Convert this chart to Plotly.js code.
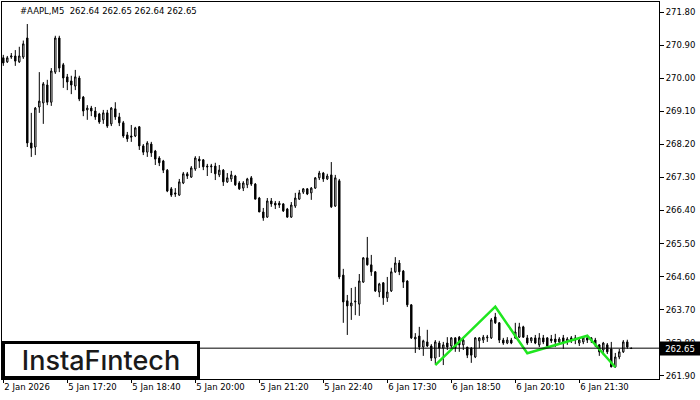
<!DOCTYPE html>
<html>
<head>
<meta charset="utf-8">
<script src="https://cdn.plot.ly/plotly-3.0.1.min.js"></script>
<style>html,body{margin:0;padding:0;background:#fff;}#chart{width:700px;height:400px;}</style>
</head>
<body>
<div id="chart"></div>
<script>
var symbolTitle = "#AAPL,M5\u00a0 262.64 262.65 262.64 262.65";
var lastPrice = 262.65;

var opens = [270.56,270.45,270.58,270.61,270.45,270.58,271.10,268.24,268.13,269.22,
269.33,269.82,269.35,270.17,271.10,270.37,270.04,269.93,269.79,270.01,
269.49,269.14,269.19,269.11,269.03,268.87,269.06,268.76,269.17,268.95,
268.79,268.46,268.43,268.43,268.68,268.16,267.99,268.21,268.02,267.83,
267.75,267.50,266.99,266.88,266.82,267.15,267.40,267.31,267.53,267.80,
267.78,267.61,267.59,267.61,267.37,267.50,267.18,267.26,267.34,267.15,
267.01,267.10,267.29,267.12,266.74,266.36,266.22,266.66,266.60,266.60,
266.58,266.44,266.22,266.52,266.71,266.90,266.99,266.88,267.01,267.29,
267.42,267.26,267.37,266.52,267.21,264.64,263.94,263.80,263.91,263.85,
264.45,265.11,264.92,264.73,264.18,264.43,264.02,264.21,264.73,264.97,
264.75,264.48,263.83,262.90,262.98,262.68,262.82,262.71,262.38,262.79,
262.65,262.79,262.71,262.93,262.95,262.74,262.68,262.65,262.41,262.85,
262.87,262.93,262.93,263.50,263.34,262.87,262.79,262.87,262.93,262.95,
263.23,262.93,262.85,262.93,262.74,262.93,262.93,262.90,262.90,262.82,
262.93,262.82,262.93,262.93,262.79,262.82,262.93,262.93,262.87,262.74,
262.60,262.74,262.63,262.14,262.41,262.55,262.82,262.64];

var highs = [270.64,270.61,270.69,270.77,270.86,271.03,271.48,269.06,269.22,270.17,
269.90,269.96,270.28,271.16,271.16,270.42,270.12,270.07,270.23,270.07,
269.52,269.27,269.25,269.22,269.06,269.14,269.14,269.22,269.35,269.06,
268.84,268.54,268.73,268.68,268.70,268.21,268.29,268.27,268.05,267.88,
267.78,267.53,267.04,267.01,267.26,267.45,267.45,267.61,267.88,267.88,
267.80,267.67,267.67,267.70,267.64,267.53,267.42,267.48,267.37,267.20,
267.20,267.29,267.34,267.15,266.77,266.47,266.74,266.74,266.66,266.66,
266.60,266.47,266.63,266.88,266.96,267.01,267.01,267.04,267.31,267.48,
267.45,267.40,267.72,267.37,267.26,264.81,264.10,264.29,264.32,264.67,
265.13,265.68,265.19,264.75,264.43,264.45,264.59,264.84,265.13,265.05,
264.78,264.50,263.85,263.06,263.23,262.88,263.15,262.76,262.87,262.85,
262.82,262.95,262.95,262.95,262.98,262.95,262.68,262.68,262.95,262.95,
263.01,263.01,263.47,263.61,263.36,262.93,262.95,262.93,263.34,263.34,
263.26,263.01,262.95,263.01,263.06,263.01,262.95,263.01,263.04,262.95,
263.01,262.95,262.98,263.01,262.95,262.98,263.01,262.95,262.93,262.76,
262.82,262.79,262.82,262.52,262.63,262.87,262.88,262.65];

var lows = [270.34,270.42,270.53,270.34,270.42,270.53,268.13,267.86,267.91,269.06,
268.76,269.27,269.25,270.12,270.17,269.74,269.68,269.57,269.68,269.38,
268.97,268.87,268.97,268.87,268.76,268.76,268.65,268.70,268.87,268.70,
268.38,268.27,268.27,268.40,268.05,267.91,267.86,267.86,267.64,267.61,
267.42,266.90,266.77,266.77,266.80,267.12,267.26,267.29,267.48,267.56,
267.50,267.34,267.42,267.23,267.31,267.07,267.15,267.18,267.07,266.96,
266.93,267.01,267.07,266.71,266.36,266.12,266.20,266.50,266.44,266.47,
266.36,266.20,266.20,266.47,266.69,266.85,266.82,266.69,266.99,267.23,
267.18,267.23,266.47,266.50,264.53,263.34,263.01,263.42,263.55,263.53,
264.43,264.90,264.62,264.18,264.04,263.83,263.91,264.18,264.70,264.64,
264.29,263.77,262.90,262.52,262.60,262.44,262.68,262.30,262.22,262.41,
262.19,262.60,262.65,262.55,262.55,262.60,262.38,262.25,262.38,262.65,
262.79,262.82,262.90,263.31,262.79,262.74,262.76,262.76,262.90,262.93,
262.93,262.74,262.79,262.76,262.68,262.76,262.68,262.79,262.68,262.74,
262.63,262.74,262.79,262.76,262.71,262.76,262.79,262.79,262.68,262.44,
262.46,262.49,262.13,262.12,262.35,262.52,262.63,262.64];

var closes = [270.42,270.56,270.61,270.47,270.61,270.94,268.24,268.10,269.19,269.38,
269.85,269.35,270.20,271.10,270.28,270.01,269.90,269.82,270.04,269.44,
269.11,269.19,269.11,268.95,268.81,269.06,268.70,269.19,268.95,268.79,
268.43,268.35,268.40,268.65,268.16,267.99,268.24,267.97,267.80,267.70,
267.50,266.93,266.82,266.85,267.18,267.40,267.34,267.56,267.83,267.75,
267.59,267.59,267.61,267.40,267.50,267.18,267.29,267.37,267.10,266.99,
267.15,267.26,267.12,266.71,266.36,266.20,266.66,266.58,266.55,266.55,
266.39,266.22,266.55,266.74,266.88,266.99,266.85,267.01,267.29,267.42,
267.26,267.34,266.50,267.29,264.59,263.91,263.80,263.88,263.93,264.48,
265.11,264.92,264.73,264.21,264.40,264.02,264.18,264.73,264.97,264.73,
264.45,263.83,262.93,262.95,262.68,262.85,262.71,262.38,262.82,262.65,
262.74,262.68,262.93,262.65,262.74,262.87,262.46,262.46,262.93,262.93,
262.95,262.95,263.42,263.34,262.87,262.79,262.87,262.79,263.09,263.23,
262.95,262.79,262.93,262.79,262.93,262.82,262.71,262.85,262.82,262.90,
262.79,262.90,262.87,262.87,262.87,262.93,262.87,262.87,262.74,262.55,
262.79,262.55,262.14,262.41,262.55,262.82,262.68,262.65];

var timeTickBars = [0,16,32,48,64,80,96,112,128,144];
var timeTickLabels = ["2 Jan 2026","5 Jan 17:20","5 Jan 18:40","5 Jan 20:00","5 Jan 21:20",
  "5 Jan 22:40","6 Jan 17:30","6 Jan 18:50","6 Jan 20:10","6 Jan 21:30"];
var priceTicks = [261.90,262.80,263.70,264.60,265.50,266.40,267.30,268.20,269.10,270.00,270.90,271.80];

var patternBars = [108,123,131,146,153];
var patternPrices = [262.19,263.78,262.51,262.99,262.13];

var barIdx = opens.map(function(_, i){ return i; });
var F = "DejaVu Sans, Verdana, sans-serif";

var traces = [
  {
    type: "candlestick",
    x: barIdx, open: opens, high: highs, low: lows, close: closes,
    increasing: {line: {color: "#000", width: 1}, fillcolor: "#fff"},
    decreasing: {line: {color: "#000", width: 1}, fillcolor: "#000"},
    whiskerwidth: 0,
    hoverinfo: "skip"
  },
  {
    type: "scatter", mode: "lines",
    x: patternBars, y: patternPrices,
    line: {color: "#1fe61f", width: 2.5},
    hoverinfo: "skip"
  }
];

var layout = {
  width: 700, height: 400,
  margin: {l: 2, r: 41, t: 2, b: 21, pad: 0},
  paper_bgcolor: "#fff", plot_bgcolor: "#fff",
  showlegend: false,
  boxgap: 0.5,
  hovermode: false,
  xaxis: {
    range: [-0.325, 163.925],
    tickmode: "array", tickvals: timeTickBars, ticktext: timeTickLabels,
    ticks: "outside", ticklen: 3, tickcolor: "#000", tickwidth: 1,
    ticklabelposition: "outside right",
    tickfont: {family: F, size: 8.5, color: "#000"},
    showgrid: false, zeroline: false,
    showline: true, mirror: true, linecolor: "#000", linewidth: 1,
    rangeslider: {visible: false}, fixedrange: true
  },
  yaxis: {
    side: "right",
    range: [261.81, 272.08],
    tickmode: "array", tickvals: priceTicks, tickformat: ".2f",
    ticks: "outside", ticklen: 4, tickcolor: "#000", tickwidth: 1,
    tickfont: {family: F, size: 8.5, color: "#000"},
    showgrid: false, zeroline: false,
    showline: true, mirror: true, linecolor: "#000", linewidth: 1,
    fixedrange: true
  },
  shapes: [
    {type: "line", xref: "paper", x0: 0, x1: 1, yref: "y", y0: lastPrice, y1: lastPrice,
     line: {color: "#000", width: 1}}
  ],
  annotations: [
    {xref: "paper", yref: "paper", x: 0.0244, y: 0.976, xanchor: "left", yanchor: "middle",
     text: symbolTitle, showarrow: false, font: {family: F, size: 8.5, color: "#000"}},
    {xref: "paper", yref: "y", x: 1, y: lastPrice, xanchor: "left", yanchor: "middle",
     text: lastPrice.toFixed(2), showarrow: false, bgcolor: "#000", borderpad: 1,
     width: 38, height: 11, font: {family: F, size: 8.5, color: "#fff"}},
    {xref: "paper", yref: "paper", x: 0, y: 0, xanchor: "left", yanchor: "bottom",
     text: "InstaF\u0131ntech", showarrow: false, bgcolor: "#fff",
     bordercolor: "#000", borderwidth: 3, borderpad: 0, width: 192, height: 32,
     font: {family: "Inter, Lato, sans-serif", size: 27, weight: 500, color: "#1a1a1a"}}
  ]
};

Plotly.newPlot("chart", traces, layout, {staticPlot: true, displayModeBar: false});
</script>
</body>
</html>
